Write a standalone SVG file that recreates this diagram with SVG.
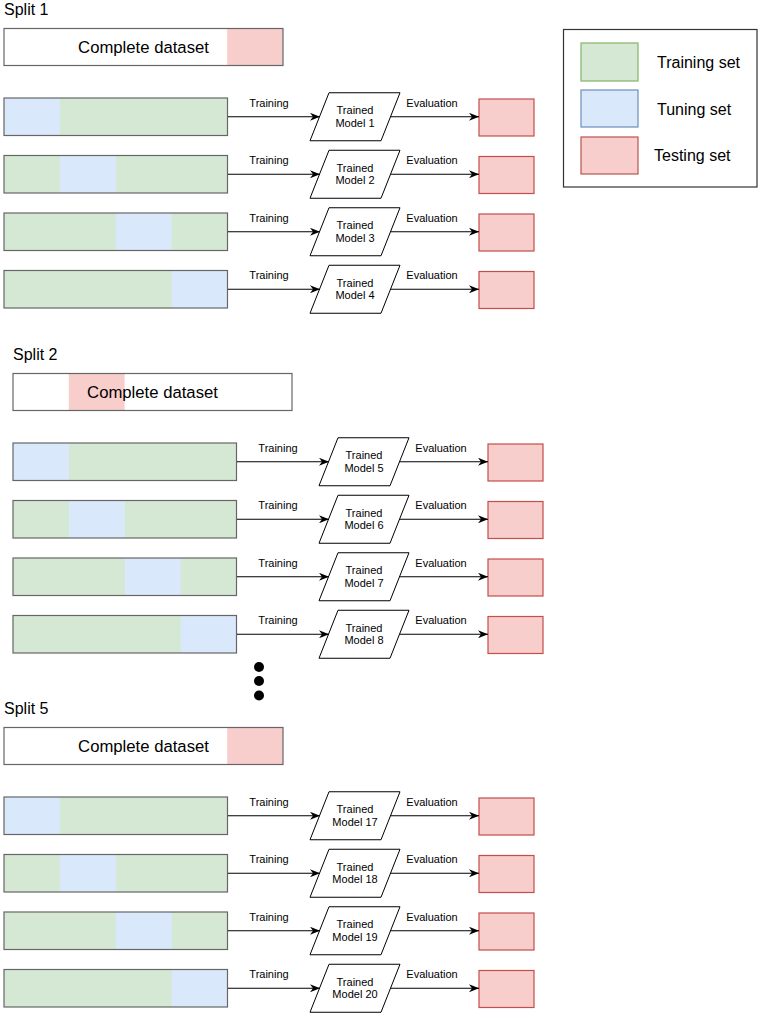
<svg xmlns="http://www.w3.org/2000/svg" width="762" height="1016" viewBox="0 0 762 1016">
<defs>
<style>
text{font-family:"Liberation Sans",Arial,sans-serif;fill:#000}
.ttl{font-size:16px}
.big{font-size:16.7px;text-anchor:middle}
.lbl{font-size:11px;text-anchor:middle}
.leg{font-size:16px}
.trn{fill:#d5e8d4}
.tun{fill:#dae8fc}
.tst{fill:#f8cecc}
.outline{fill:none;stroke:#666;stroke-width:1.2}
.ev{fill:#f8cecc;stroke:#c44e4a;stroke-width:1.2}
.para{fill:#fff;stroke:#000;stroke-width:1}
.edge{fill:none;stroke:#000;stroke-width:1.2;marker-end:url(#arr)}
</style>
<marker id="arr" viewBox="0 0 10 8" refX="10" refY="4" markerWidth="10" markerHeight="8" markerUnits="userSpaceOnUse" orient="auto">
<path d="M0,0 L10,4 L0,8 L3,4 Z" fill="#000"/>
</marker>
</defs>
<rect width="762" height="1016" fill="#fff"/>

<!-- Legend -->
<g id="legend">
<rect x="563.5" y="29.5" width="193.5" height="157.5" fill="#fff" stroke="#333" stroke-width="1.2"/>
<rect x="581" y="43" width="57" height="38" fill="#d5e8d4" stroke="#82b366" stroke-width="1.2"/>
<rect x="581" y="90" width="57" height="37" fill="#dae8fc" stroke="#6c8ebf" stroke-width="1.2"/>
<rect x="581" y="137" width="57" height="37" fill="#f8cecc" stroke="#b85450" stroke-width="1.2"/>
<text class="leg" x="657" y="68">Training set</text>
<text class="leg" x="657" y="115">Tuning set</text>
<text class="leg" x="654" y="161">Testing set</text>
</g>

<!-- Split 1 -->
<text id="split1-label" class="ttl" x="4" y="15">Split 1</text>
<g id="split1-dataset">
<rect x="4" y="28.5" width="279" height="37" fill="#fff"/>
<rect class="tst" x="227.2" y="28.5" width="55.8" height="37"/>
<rect class="outline" x="4" y="28.5" width="279" height="37"/>
<text class="big" x="143.5" y="53">Complete dataset</text>
</g>
<g id="s1-bar1"><rect class="trn" x="4" y="98" width="223.5" height="37.5"/><rect class="tun" x="4" y="98" width="55.875" height="37.5"/><rect class="outline" x="4" y="98" width="223.5" height="37.5"/></g>
<g id="s1-bar2"><rect class="trn" x="4" y="155.5" width="223.5" height="37.5"/><rect class="tun" x="59.875" y="155.5" width="55.875" height="37.5"/><rect class="outline" x="4" y="155.5" width="223.5" height="37.5"/></g>
<g id="s1-bar3"><rect class="trn" x="4" y="213" width="223.5" height="37.5"/><rect class="tun" x="115.75" y="213" width="55.875" height="37.5"/><rect class="outline" x="4" y="213" width="223.5" height="37.5"/></g>
<g id="s1-bar4"><rect class="trn" x="4" y="270.5" width="223.5" height="37.5"/><rect class="tun" x="171.625" y="270.5" width="55.875" height="37.5"/><rect class="outline" x="4" y="270.5" width="223.5" height="37.5"/></g>
<g id="model1"><polygon class="para" points="329,92.75 400,92.75 381,140.75 310,140.75"/><text class="lbl" x="355" y="114.25">Trained</text><text class="lbl" x="355" y="126.75">Model 1</text></g>
<g id="model2"><polygon class="para" points="329,150.25 400,150.25 381,198.25 310,198.25"/><text class="lbl" x="355" y="171.75">Trained</text><text class="lbl" x="355" y="184.25">Model 2</text></g>
<g id="model3"><polygon class="para" points="329,207.75 400,207.75 381,255.75 310,255.75"/><text class="lbl" x="355" y="229.25">Trained</text><text class="lbl" x="355" y="241.75">Model 3</text></g>
<g id="model4"><polygon class="para" points="329,265.25 400,265.25 381,313.25 310,313.25"/><text class="lbl" x="355" y="286.75">Trained</text><text class="lbl" x="355" y="299.25">Model 4</text></g>
<g id="s1-test1"><rect class="ev" x="479" y="99" width="55" height="37"/></g>
<g id="s1-test2"><rect class="ev" x="479" y="156.5" width="55" height="37"/></g>
<g id="s1-test3"><rect class="ev" x="479" y="214" width="55" height="37"/></g>
<g id="s1-test4"><rect class="ev" x="479" y="271.5" width="55" height="37"/></g>

<!-- Split 2 -->
<text id="split2-label" class="ttl" x="13" y="360">Split 2</text>
<g id="split2-dataset">
<rect x="13" y="373.5" width="279" height="37" fill="#fff"/>
<rect class="tst" x="68.8" y="373.5" width="55.8" height="37"/>
<rect class="outline" x="13" y="373.5" width="279" height="37"/>
<text class="big" x="152.5" y="398">Complete dataset</text>
</g>
<g id="s2-bar1"><rect class="trn" x="13" y="443" width="223.5" height="37.5"/><rect class="tun" x="13" y="443" width="55.875" height="37.5"/><rect class="outline" x="13" y="443" width="223.5" height="37.5"/></g>
<g id="s2-bar2"><rect class="trn" x="13" y="500.5" width="223.5" height="37.5"/><rect class="tun" x="68.875" y="500.5" width="55.875" height="37.5"/><rect class="outline" x="13" y="500.5" width="223.5" height="37.5"/></g>
<g id="s2-bar3"><rect class="trn" x="13" y="558" width="223.5" height="37.5"/><rect class="tun" x="124.75" y="558" width="55.875" height="37.5"/><rect class="outline" x="13" y="558" width="223.5" height="37.5"/></g>
<g id="s2-bar4"><rect class="trn" x="13" y="615.5" width="223.5" height="37.5"/><rect class="tun" x="180.625" y="615.5" width="55.875" height="37.5"/><rect class="outline" x="13" y="615.5" width="223.5" height="37.5"/></g>
<g id="model5"><polygon class="para" points="338,437.75 409,437.75 390,485.75 319,485.75"/><text class="lbl" x="364" y="459.25">Trained</text><text class="lbl" x="364" y="471.75">Model 5</text></g>
<g id="model6"><polygon class="para" points="338,495.25 409,495.25 390,543.25 319,543.25"/><text class="lbl" x="364" y="516.75">Trained</text><text class="lbl" x="364" y="529.25">Model 6</text></g>
<g id="model7"><polygon class="para" points="338,552.75 409,552.75 390,600.75 319,600.75"/><text class="lbl" x="364" y="574.25">Trained</text><text class="lbl" x="364" y="586.75">Model 7</text></g>
<g id="model8"><polygon class="para" points="338,610.25 409,610.25 390,658.25 319,658.25"/><text class="lbl" x="364" y="631.75">Trained</text><text class="lbl" x="364" y="644.25">Model 8</text></g>
<g id="s2-test1"><rect class="ev" x="488" y="444" width="55" height="37"/></g>
<g id="s2-test2"><rect class="ev" x="488" y="501.5" width="55" height="37"/></g>
<g id="s2-test3"><rect class="ev" x="488" y="559" width="55" height="37"/></g>
<g id="s2-test4"><rect class="ev" x="488" y="616.5" width="55" height="37"/></g>

<!-- Ellipsis -->
<g id="ellipsis">
<circle cx="259" cy="667" r="5" fill="#000"/>
<circle cx="259" cy="681" r="5" fill="#000"/>
<circle cx="259" cy="695.5" r="5" fill="#000"/>
</g>

<!-- Split 5 -->
<text id="split5-label" class="ttl" x="4" y="714">Split 5</text>
<g id="split5-dataset">
<rect x="4" y="727.5" width="279" height="37" fill="#fff"/>
<rect class="tst" x="227.2" y="727.5" width="55.8" height="37"/>
<rect class="outline" x="4" y="727.5" width="279" height="37"/>
<text class="big" x="143.5" y="752">Complete dataset</text>
</g>
<g id="s5-bar1"><rect class="trn" x="4" y="797" width="223.5" height="37.5"/><rect class="tun" x="4" y="797" width="55.875" height="37.5"/><rect class="outline" x="4" y="797" width="223.5" height="37.5"/></g>
<g id="s5-bar2"><rect class="trn" x="4" y="854.5" width="223.5" height="37.5"/><rect class="tun" x="59.875" y="854.5" width="55.875" height="37.5"/><rect class="outline" x="4" y="854.5" width="223.5" height="37.5"/></g>
<g id="s5-bar3"><rect class="trn" x="4" y="912" width="223.5" height="37.5"/><rect class="tun" x="115.75" y="912" width="55.875" height="37.5"/><rect class="outline" x="4" y="912" width="223.5" height="37.5"/></g>
<g id="s5-bar4"><rect class="trn" x="4" y="969.5" width="223.5" height="37.5"/><rect class="tun" x="171.625" y="969.5" width="55.875" height="37.5"/><rect class="outline" x="4" y="969.5" width="223.5" height="37.5"/></g>
<g id="model17"><polygon class="para" points="329,791.75 400,791.75 381,839.75 310,839.75"/><text class="lbl" x="355" y="813.25">Trained</text><text class="lbl" x="355" y="825.75">Model 17</text></g>
<g id="model18"><polygon class="para" points="329,849.25 400,849.25 381,897.25 310,897.25"/><text class="lbl" x="355" y="870.75">Trained</text><text class="lbl" x="355" y="883.25">Model 18</text></g>
<g id="model19"><polygon class="para" points="329,906.75 400,906.75 381,954.75 310,954.75"/><text class="lbl" x="355" y="928.25">Trained</text><text class="lbl" x="355" y="940.75">Model 19</text></g>
<g id="model20"><polygon class="para" points="329,964.25 400,964.25 381,1012.25 310,1012.25"/><text class="lbl" x="355" y="985.75">Trained</text><text class="lbl" x="355" y="998.25">Model 20</text></g>
<g id="s5-test1"><rect class="ev" x="479" y="798" width="55" height="37"/></g>
<g id="s5-test2"><rect class="ev" x="479" y="855.5" width="55" height="37"/></g>
<g id="s5-test3"><rect class="ev" x="479" y="913" width="55" height="37"/></g>
<g id="s5-test4"><rect class="ev" x="479" y="970.5" width="55" height="37"/></g>

<!-- Connectors -->
<g id="connectors">
<line class="edge" x1="228" y1="116.75" x2="320" y2="116.75"/>
<line class="edge" x1="390.5" y1="116.75" x2="479" y2="116.75"/>
<line class="edge" x1="228" y1="174.25" x2="320" y2="174.25"/>
<line class="edge" x1="390.5" y1="174.25" x2="479" y2="174.25"/>
<line class="edge" x1="228" y1="231.75" x2="320" y2="231.75"/>
<line class="edge" x1="390.5" y1="231.75" x2="479" y2="231.75"/>
<line class="edge" x1="228" y1="289.25" x2="320" y2="289.25"/>
<line class="edge" x1="390.5" y1="289.25" x2="479" y2="289.25"/>

<line class="edge" x1="237" y1="461.75" x2="329" y2="461.75"/>
<line class="edge" x1="399.5" y1="461.75" x2="488" y2="461.75"/>
<line class="edge" x1="237" y1="519.25" x2="329" y2="519.25"/>
<line class="edge" x1="399.5" y1="519.25" x2="488" y2="519.25"/>
<line class="edge" x1="237" y1="576.75" x2="329" y2="576.75"/>
<line class="edge" x1="399.5" y1="576.75" x2="488" y2="576.75"/>
<line class="edge" x1="237" y1="634.25" x2="329" y2="634.25"/>
<line class="edge" x1="399.5" y1="634.25" x2="488" y2="634.25"/>

<line class="edge" x1="228" y1="815.75" x2="320" y2="815.75"/>
<line class="edge" x1="390.5" y1="815.75" x2="479" y2="815.75"/>
<line class="edge" x1="228" y1="873.25" x2="320" y2="873.25"/>
<line class="edge" x1="390.5" y1="873.25" x2="479" y2="873.25"/>
<line class="edge" x1="228" y1="930.75" x2="320" y2="930.75"/>
<line class="edge" x1="390.5" y1="930.75" x2="479" y2="930.75"/>
<line class="edge" x1="228" y1="988.25" x2="320" y2="988.25"/>
<line class="edge" x1="390.5" y1="988.25" x2="479" y2="988.25"/>

<text class="lbl" x="269" y="106.75">Training</text><text class="lbl" x="432" y="106.75">Evaluation</text>
<text class="lbl" x="269" y="164.25">Training</text><text class="lbl" x="432" y="164.25">Evaluation</text>
<text class="lbl" x="269" y="221.75">Training</text><text class="lbl" x="432" y="221.75">Evaluation</text>
<text class="lbl" x="269" y="279.25">Training</text><text class="lbl" x="432" y="279.25">Evaluation</text>

<text class="lbl" x="278" y="451.75">Training</text><text class="lbl" x="441" y="451.75">Evaluation</text>
<text class="lbl" x="278" y="509.25">Training</text><text class="lbl" x="441" y="509.25">Evaluation</text>
<text class="lbl" x="278" y="566.75">Training</text><text class="lbl" x="441" y="566.75">Evaluation</text>
<text class="lbl" x="278" y="624.25">Training</text><text class="lbl" x="441" y="624.25">Evaluation</text>

<text class="lbl" x="269" y="805.75">Training</text><text class="lbl" x="432" y="805.75">Evaluation</text>
<text class="lbl" x="269" y="863.25">Training</text><text class="lbl" x="432" y="863.25">Evaluation</text>
<text class="lbl" x="269" y="920.75">Training</text><text class="lbl" x="432" y="920.75">Evaluation</text>
<text class="lbl" x="269" y="978.25">Training</text><text class="lbl" x="432" y="978.25">Evaluation</text>
</g>
</svg>
